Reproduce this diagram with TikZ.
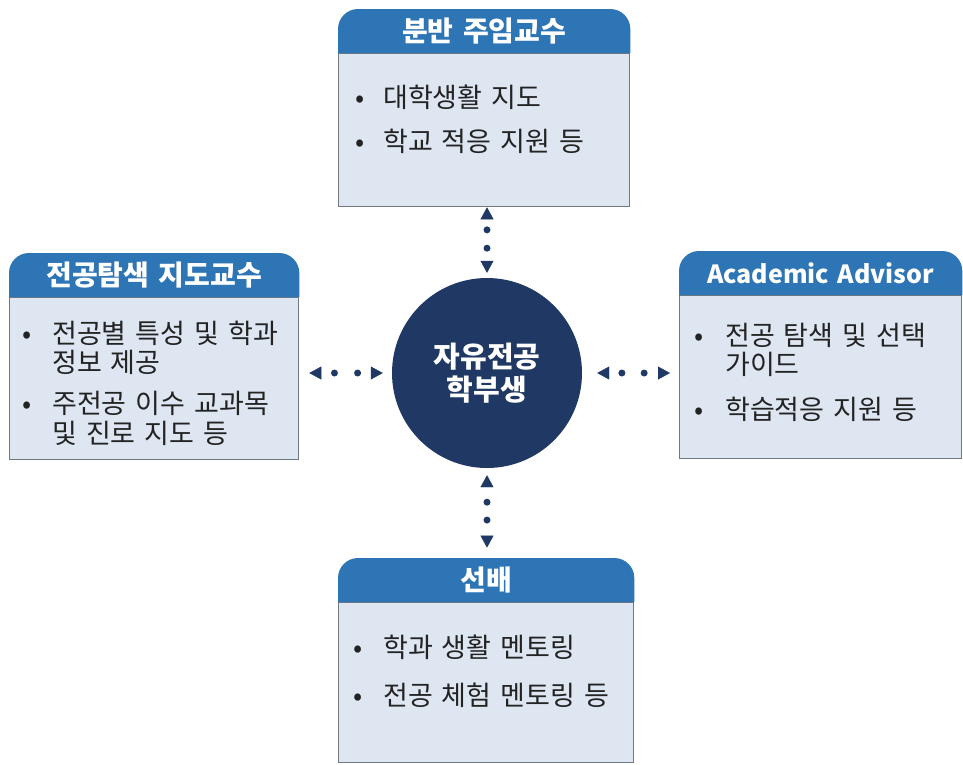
\documentclass[tikz,border=0pt]{standalone}
\usepackage{fontspec}
\setmainfont[WordSpace=1.5]{Noto Sans CJK KR}
\usepackage{xcolor}
\usetikzlibrary{arrows.meta}
\definecolor{headblue}{RGB}{46,117,182}
\definecolor{paleblue}{RGB}{221,230,241}
\definecolor{navy}{RGB}{31,56,100}
\definecolor{rimgray}{RGB}{112,120,130}
\definecolor{inkgray}{RGB}{35,35,35}

\begin{document}
\begin{tikzpicture}[x=1pt,y=-1pt,
        body/.style={draw=rimgray,line width=1.3pt,fill=paleblue,anchor=north west,inner sep=0pt},
        head/.style={fill=headblue,rounded corners=20pt},
        headtxt/.style={anchor=south,minimum height=44pt,text=white,font=\fontsize{28}{30}\selectfont\bfseries},
        items/.style={anchor=base west,inner sep=0pt,text=inkgray,font=\fontsize{27}{25}\selectfont},
        link/.style={navy,{Triangle[length=12pt,width=13pt]}-{Triangle[length=12pt,width=13pt]},dash pattern=on 0pt off 400pt},
        pip/.style={circle,fill=navy,inner sep=0pt,minimum size=7pt}]
        \useasboundingbox (0,0) rectangle (963,764);

        \node[circle,fill=navy,minimum size=190pt,text=white,align=center,font=\fontsize{29}{33}\selectfont\bfseries] (stu) at (487,373) {자유전공\\학부생};

        \node[body,minimum width=291pt,minimum height=153pt] (tbody) at (338,53) {};
        \fill[head] (tbody.north west) |- ([yshift=44pt]tbody.north) -| (tbody.north east);
        \node[headtxt] (thead) at (tbody.north) {분반 주임교수};
        \node[items] (titems) at (355,107) {\begin{tabular}[t]{@{}p{28pt}@{}l@{}}
                • & 대학생활 지도\\[15pt]
                • & 학교 적응 지원 등
            \end{tabular}};

        \node[body,minimum width=289pt,minimum height=162pt] (lbody) at (9,297) {};
        \fill[head] (lbody.north west) |- ([yshift=44pt]lbody.north) -| (lbody.north east);
        \node[headtxt] (lhead) at (lbody.north) {전공탐색 지도교수};
        \node[items] (litems) at (22,343) {\begin{tabular}[t]{@{}p{30pt}@{}l@{}}
                • & 전공별 특성 및 학과\\
                  & 정보 제공\\[11pt]
                • & 주전공 이수 교과목\\
                  & 및 진로 지도 등
            \end{tabular}};

        \node[body,minimum width=282pt,minimum height=163pt] (rbody) at (679,295) {};
        \fill[head] (rbody.north west) |- ([yshift=44pt]rbody.north) -| (rbody.north east);
        \node[headtxt,font=\fontsize{25}{30}\selectfont\bfseries] (rhead) at (rbody.north) {Academic Advisor};
        \node[items] (ritems) at (694,345) {\begin{tabular}[t]{@{}p{31pt}@{}l@{}}
                • & 전공 탐색 및 선택\\
                  & 가이드\\[15pt]
                • & 학습적응 지원 등
            \end{tabular}};

        \node[body,minimum width=295pt,minimum height=160pt] (bbody) at (338,602) {};
        \fill[head] (bbody.north west) |- ([yshift=44pt]bbody.north) -| (bbody.north east);
        \node[headtxt] (bhead) at (bbody.north) {선배};
        \node[items] (bitems) at (353,657) {\begin{tabular}[t]{@{}p{30pt}@{}l@{}}
                • & 학과 생활 멘토링\\[18pt]
                • & 전공 체험 멘토링 등
            \end{tabular}};

        \draw[link,shorten >=5pt] (tbody.south -| stu.north) -- node[pip,pos=.32]{} node[pip,pos=.58]{} (stu.north);
        \draw[link,shorten <=7pt,shorten >=10pt] (stu.south) -- node[pip,pos=.38]{} node[pip,pos=.58]{} (stu.south |- bhead.north);
        \draw[link,shorten <=10pt,shorten >=9pt] (lbody.east |- stu.west) -- node[pip,pos=.38]{} node[pip,pos=.63]{} (stu.west);
        \draw[link,shorten <=15pt,shorten >=9pt] (stu.east) -- node[pip,pos=.41]{} node[pip,pos=.64]{} (rbody.west |- stu.east);
    \end{tikzpicture}
\end{document}
